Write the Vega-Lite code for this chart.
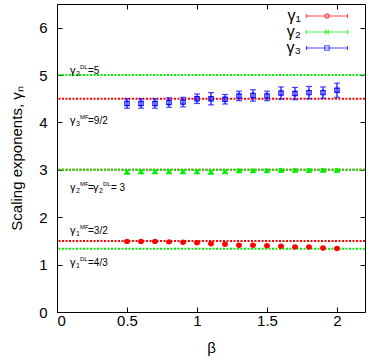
{
  "$schema": "https://vega.github.io/schema/vega-lite/v6.json",
  "width": 308,
  "height": 308,
  "autosize": {"type": "none"},
  "padding": {"left": 57, "top": 4, "right": 5, "bottom": 48},
  "background": "white",
  "config": {
    "view": {"stroke": "black", "strokeWidth": 1},
    "font": "Liberation Sans",
    "axis": {
      "domain": false,
      "grid": false,
      "tickColor": "black",
      "tickSize": -5,
      "tickWidth": 1,
      "labelFont": "Liberation Sans",
      "labelFontSize": 15,
      "labelColor": "black",
      "titleFont": "Liberation Sans",
      "titleFontSize": 15,
      "titleFontWeight": "normal",
      "titleColor": "black"
    }
  },
  "datasets": {
    "series": [
      {"beta": 0.5, "g": 1.49, "err": 0.015, "series": "γ₁"},
      {"beta": 0.6, "g": 1.49, "err": 0.015, "series": "γ₁"},
      {"beta": 0.7, "g": 1.49, "err": 0.015, "series": "γ₁"},
      {"beta": 0.8, "g": 1.48, "err": 0.015, "series": "γ₁"},
      {"beta": 0.9, "g": 1.47, "err": 0.015, "series": "γ₁"},
      {"beta": 1.0, "g": 1.46, "err": 0.015, "series": "γ₁"},
      {"beta": 1.1, "g": 1.44, "err": 0.015, "series": "γ₁"},
      {"beta": 1.2, "g": 1.43, "err": 0.015, "series": "γ₁"},
      {"beta": 1.3, "g": 1.41, "err": 0.015, "series": "γ₁"},
      {"beta": 1.4, "g": 1.41, "err": 0.015, "series": "γ₁"},
      {"beta": 1.5, "g": 1.40, "err": 0.015, "series": "γ₁"},
      {"beta": 1.6, "g": 1.39, "err": 0.015, "series": "γ₁"},
      {"beta": 1.7, "g": 1.37, "err": 0.015, "series": "γ₁"},
      {"beta": 1.8, "g": 1.37, "err": 0.015, "series": "γ₁"},
      {"beta": 1.9, "g": 1.35, "err": 0.015, "series": "γ₁"},
      {"beta": 2.0, "g": 1.34, "err": 0.015, "series": "γ₁"},
      {"beta": 0.5, "g": 2.95, "err": 0.03, "series": "γ₂"},
      {"beta": 0.6, "g": 2.96, "err": 0.03, "series": "γ₂"},
      {"beta": 0.7, "g": 2.96, "err": 0.03, "series": "γ₂"},
      {"beta": 0.8, "g": 2.96, "err": 0.03, "series": "γ₂"},
      {"beta": 0.9, "g": 2.96, "err": 0.03, "series": "γ₂"},
      {"beta": 1.0, "g": 2.96, "err": 0.03, "series": "γ₂"},
      {"beta": 1.1, "g": 2.95, "err": 0.03, "series": "γ₂"},
      {"beta": 1.2, "g": 2.96, "err": 0.03, "series": "γ₂"},
      {"beta": 1.3, "g": 2.98, "err": 0.03, "series": "γ₂"},
      {"beta": 1.4, "g": 2.98, "err": 0.03, "series": "γ₂"},
      {"beta": 1.5, "g": 2.98, "err": 0.03, "series": "γ₂"},
      {"beta": 1.6, "g": 2.99, "err": 0.03, "series": "γ₂"},
      {"beta": 1.7, "g": 2.99, "err": 0.03, "series": "γ₂"},
      {"beta": 1.8, "g": 2.99, "err": 0.03, "series": "γ₂"},
      {"beta": 1.9, "g": 2.99, "err": 0.03, "series": "γ₂"},
      {"beta": 2.0, "g": 2.99, "err": 0.03, "series": "γ₂"},
      {"beta": 0.5, "g": 4.40, "err": 0.1, "series": "γ₃"},
      {"beta": 0.6, "g": 4.40, "err": 0.1, "series": "γ₃"},
      {"beta": 0.7, "g": 4.40, "err": 0.1, "series": "γ₃"},
      {"beta": 0.8, "g": 4.42, "err": 0.1, "series": "γ₃"},
      {"beta": 0.9, "g": 4.43, "err": 0.1, "series": "γ₃"},
      {"beta": 1.0, "g": 4.50, "err": 0.1, "series": "γ₃"},
      {"beta": 1.1, "g": 4.50, "err": 0.13, "series": "γ₃"},
      {"beta": 1.2, "g": 4.49, "err": 0.1, "series": "γ₃"},
      {"beta": 1.3, "g": 4.56, "err": 0.1, "series": "γ₃"},
      {"beta": 1.4, "g": 4.57, "err": 0.12, "series": "γ₃"},
      {"beta": 1.5, "g": 4.56, "err": 0.1, "series": "γ₃"},
      {"beta": 1.6, "g": 4.62, "err": 0.13, "series": "γ₃"},
      {"beta": 1.7, "g": 4.61, "err": 0.13, "series": "γ₃"},
      {"beta": 1.8, "g": 4.63, "err": 0.13, "series": "γ₃"},
      {"beta": 1.9, "g": 4.63, "err": 0.12, "series": "γ₃"},
      {"beta": 2.0, "g": 4.68, "err": 0.15, "series": "γ₃"}
    ],
    "reflines": [
      {"value": 4.5, "kind": "MF"},
      {"value": 3, "kind": "MF"},
      {"value": 1.5, "kind": "MF"},
      {"value": 5, "kind": "DL"},
      {"value": 3, "kind": "DL"},
      {"value": 1.3333, "kind": "DL"}
    ],
    "labels": [
      {"x": 0.093, "y": 5.03, "sym": "γ", "sub": "3", "sup": "DL", "rest": "=5"},
      {"x": 0.093, "y": 3.96, "sym": "γ", "sub": "3", "sup": "MF", "rest": "=9/2"},
      {"x": 0.093, "y": 2.55, "sym": "γ", "sub": "2", "sup": "MF", "rest": "="},
      {"x": 0.257, "y": 2.55, "sym": "γ", "sub": "2", "sup": "DL", "rest": "= 3"},
      {"x": 0.093, "y": 1.64, "sym": "γ", "sub": "1", "sup": "MF", "rest": "=3/2"},
      {"x": 0.093, "y": 0.97, "sym": "γ", "sub": "1", "sup": "DL", "rest": "=4/3"}
    ]
  },
  "resolve": {
    "scale": {"color": "independent", "shape": "independent"},
    "axis": {"x": "independent", "y": "independent"}
  },
  "layer": [
    {
      "data": {"name": "reflines"},
      "mark": {"type": "rule", "strokeWidth": 2, "strokeDash": [2, 1.5]},
      "encoding": {
        "y": {"field": "value", "type": "quantitative", "scale": {"domain": [0, 6.5], "nice": false}, "axis": null},
        "color": {"field": "kind", "type": "nominal", "scale": {"domain": ["MF", "DL"], "range": ["#ff0000", "#00ee00"]}, "legend": null}
      }
    },
    {
      "data": {"name": "series"},
      "mark": {"type": "errorbar", "ticks": {"size": 6}, "thickness": 1.2},
      "encoding": {
        "x": {"field": "beta", "type": "quantitative", "scale": {"domain": [0, 2.2], "nice": false},
              "axis": {"orient": "bottom", "values": [0, 0.5, 1, 1.5, 2], "format": "~g", "title": "β", "labelPadding": 6, "titlePadding": 12}},
        "y": {"field": "g", "type": "quantitative", "scale": {"domain": [0, 6.5], "nice": false},
              "axis": {"orient": "left", "values": [0, 1, 2, 3, 4, 5, 6], "format": "d", "title": "Scaling exponents, γₙ", "labelPadding": 15, "titlePadding": 14}},
        "yError": {"field": "err"},
        "color": {"field": "series", "type": "nominal", "scale": {"domain": ["γ₁", "γ₂", "γ₃"], "range": ["#ff0000", "#00ee00", "#0000ff"]}, "legend": null}
      }
    },
    {
      "data": {"name": "series"},
      "mark": {"type": "point", "filled": false, "strokeWidth": 1.2, "size": 18, "opacity": 1},
      "encoding": {
        "x": {"field": "beta", "type": "quantitative", "scale": {"domain": [0, 2.2], "nice": false},
              "axis": {"orient": "top", "values": [0, 0.5, 1, 1.5, 2], "labels": false, "title": null}},
        "y": {"field": "g", "type": "quantitative", "scale": {"domain": [0, 6.5], "nice": false},
              "axis": {"orient": "right", "values": [0, 1, 2, 3, 4, 5, 6], "labels": false, "title": null}},
        "stroke": {"field": "series", "type": "nominal", "scale": {"domain": ["γ₁", "γ₂", "γ₃"], "range": ["#ff0000", "#00ee00", "#0000ff"]}, "legend": null},
        "fill": {"field": "series", "type": "nominal", "scale": {"domain": ["γ₁", "γ₂", "γ₃"], "range": ["#ff0000", "#00ee00", "transparent"]}, "legend": null},
        "shape": {"field": "series", "type": "nominal", "scale": {"domain": ["γ₁", "γ₂", "γ₃"], "range": ["circle", "triangle-up", "square"]}, "legend": null}
      }
    },
    {
      "data": {"name": "labels"},
      "mark": {"type": "text", "align": "left", "baseline": "alphabetic", "fontSize": 11, "font": "Liberation Sans", "color": "black"},
      "encoding": {
        "x": {"field": "x", "type": "quantitative", "scale": {"domain": [0, 2.2], "nice": false}, "axis": null},
        "y": {"field": "y", "type": "quantitative", "scale": {"domain": [0, 6.5], "nice": false}, "axis": null},
        "text": {"field": "sym"}
      }
    },
    {
      "data": {"name": "labels"},
      "mark": {"type": "text", "align": "left", "baseline": "alphabetic", "fontSize": 7, "dx": 6, "dy": 2, "font": "Liberation Sans", "color": "black"},
      "encoding": {
        "x": {"field": "x", "type": "quantitative", "scale": {"domain": [0, 2.2], "nice": false}, "axis": null},
        "y": {"field": "y", "type": "quantitative", "scale": {"domain": [0, 6.5], "nice": false}, "axis": null},
        "text": {"field": "sub"}
      }
    },
    {
      "data": {"name": "labels"},
      "mark": {"type": "text", "align": "left", "baseline": "alphabetic", "fontSize": 6, "dx": 10, "dy": -5, "font": "Liberation Sans", "color": "black"},
      "encoding": {
        "x": {"field": "x", "type": "quantitative", "scale": {"domain": [0, 2.2], "nice": false}, "axis": null},
        "y": {"field": "y", "type": "quantitative", "scale": {"domain": [0, 6.5], "nice": false}, "axis": null},
        "text": {"field": "sup"}
      }
    },
    {
      "data": {"name": "labels"},
      "mark": {"type": "text", "align": "left", "baseline": "alphabetic", "fontSize": 10, "dx": 18, "font": "Liberation Sans", "color": "black"},
      "encoding": {
        "x": {"field": "x", "type": "quantitative", "scale": {"domain": [0, 2.2], "nice": false}, "axis": null},
        "y": {"field": "y", "type": "quantitative", "scale": {"domain": [0, 6.5], "nice": false}, "axis": null},
        "text": {"field": "rest"}
      }
    },
    {
      "data": {"name": "series"},
      "transform": [{"filter": "false"}],
      "mark": {"type": "point", "filled": false, "strokeWidth": 1.2, "size": 187},
      "encoding": {
        "color": {"field": "series", "type": "nominal",
                  "scale": {"domain": ["γ₁", "γ₂", "γ₃"], "range": ["#ff0000", "#00ee00", "#0000ff"]},
                  "legend": {"title": null, "orient": "none", "legendX": 262, "legendY": 4, "labelAlign": "right", "labelOffset": -34, "labelFontSize": 16, "labelFont": "Liberation Sans", "labelColor": "black", "symbolSize": 187, "symbolStrokeWidth": 1.2, "padding": 0, "rowPadding": 0}},
        "shape": {"field": "series", "type": "nominal",
                  "scale": {"domain": ["γ₁", "γ₂", "γ₃"], "range": [
                    "M-3,0H3M-3,-0.3V0.3M3,-0.3V0.3M0.3,0A0.3,0.3 0 1,1 -0.3,0A0.3,0.3 0 1,1 0.3,0",
                    "M-3,0H3M-3,-0.3V0.3M3,-0.3V0.3M-0.3,-0.3L0.3,0.3M-0.3,0.3L0.3,-0.3",
                    "M-3,0H3M-3,-0.3V0.3M3,-0.3V0.3M-0.33,-0.33H0.33V0.33H-0.33Z"]},
                  "legend": {"title": null, "orient": "none", "legendX": 262, "legendY": 4, "labelAlign": "right", "labelOffset": -34, "labelFontSize": 16, "labelFont": "Liberation Sans", "labelColor": "black", "symbolSize": 187, "symbolStrokeWidth": 1.2, "padding": 0, "rowPadding": 0}}
      }
    }
  ]
}
